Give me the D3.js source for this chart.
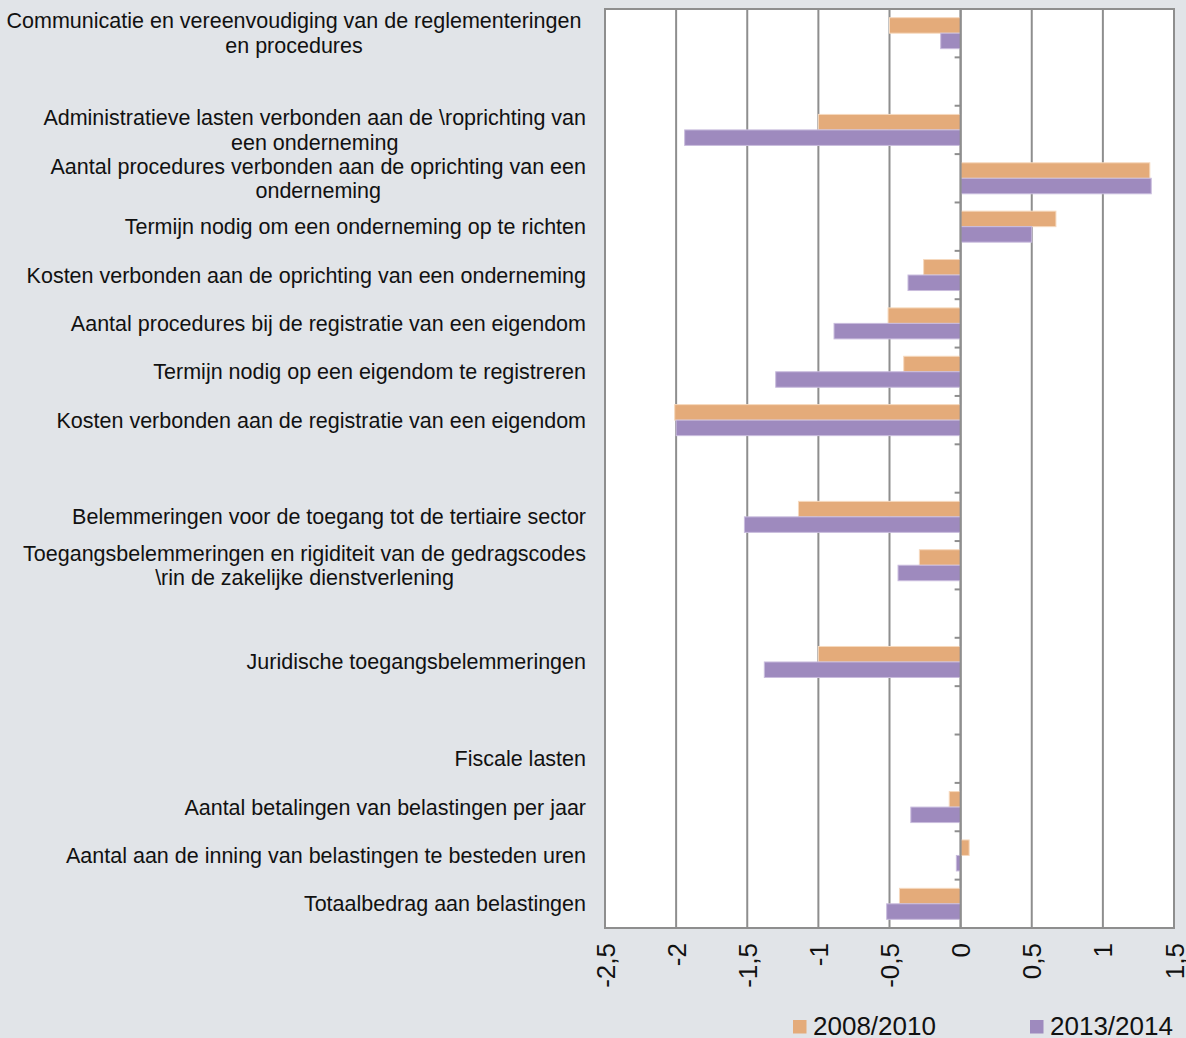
<!DOCTYPE html>
<html>
<head>
<meta charset="utf-8">
<script src="https://cdn.jsdelivr.net/npm/d3@7"></script>
<style>
  html, body { margin: 0; padding: 0; background: #E1E4E8; }
  svg { display: block; font-family: "Liberation Sans", Arial, sans-serif; }
</style>
</head>
<body>
<svg id="chart" width="1186" height="1038"></svg>
<script>
// Category labels (top to bottom); empty strings are spacer rows, "\n" marks a wrapped line
const categories = [
  "Communicatie en vereenvoudiging van de reglementeringen\nen procedures",
  "",
  "Administratieve lasten verbonden aan de \\roprichting van\neen onderneming",
  "Aantal procedures verbonden aan de oprichting van een\nonderneming",
  "Termijn nodig om een onderneming op te richten",
  "Kosten verbonden aan de oprichting van een onderneming",
  "Aantal procedures bij de registratie van een eigendom",
  "Termijn nodig op een eigendom te registreren",
  "Kosten verbonden aan de registratie van een eigendom",
  "",
  "Belemmeringen voor de toegang tot de tertiaire sector",
  "Toegangsbelemmeringen en rigiditeit van de gedragscodes\n\\rin de zakelijke dienstverlening",
  "",
  "Juridische toegangsbelemmeringen",
  "",
  "Fiscale lasten",
  "Aantal betalingen van belastingen per jaar",
  "Aantal aan de inning van belastingen te besteden uren",
  "Totaalbedrag aan belastingen"
];

const seriesNames = ["2008/2010", "2013/2014"];

const values2008_2010 = [
  -0.50, null, -1.00, 1.33, 0.67, -0.26, -0.51, -0.40, -2.01, null,
  -1.14, -0.29, null, -1.00, null, null, -0.08, 0.06, -0.43
];

const values2013_2014 = [
  -0.14, null, -1.94, 1.34, 0.50, -0.37, -0.89, -1.30, -2.00, null,
  -1.52, -0.44, null, -1.38, null, null, -0.35, -0.03, -0.52
];

const tickValues = [-2.5, -2, -1.5, -1, -0.5, 0, 0.5, 1, 1.5];

const colors = ["#E4AB7A", "#9E8ABE"];
const strokes = ["#F6D9BE", "#C9BCDD"];

const svg = d3.select("#chart");

const plot = { left: 605, right: 1174, top: 9, bottom: 928 };

const x = d3.scaleLinear()
  .domain([-2.5, 1.5])
  .range([plot.left, plot.right]);

const y = d3.scaleBand()
  .domain(d3.range(categories.length))
  .range([plot.top, plot.bottom])
  .padding(0);

const ySub = d3.scaleBand()
  .domain(seriesNames)
  .range([0, y.bandwidth()])
  .paddingInner(0)
  .paddingOuter(0.56);

// plot background
svg.append("rect")
  .attr("x", plot.left).attr("y", plot.top)
  .attr("width", plot.right - plot.left)
  .attr("height", plot.bottom - plot.top)
  .attr("fill", "#FFFFFF");

// vertical gridlines
svg.append("g")
  .selectAll("line")
  .data(tickValues)
  .join("line")
  .attr("x1", d => x(d)).attr("x2", d => x(d))
  .attr("y1", plot.top).attr("y2", plot.bottom)
  .attr("stroke", "#8E8E8E")
  .attr("stroke-width", 2);

// plot border
svg.append("rect")
  .attr("x", plot.left).attr("y", plot.top)
  .attr("width", plot.right - plot.left)
  .attr("height", plot.bottom - plot.top)
  .attr("fill", "none")
  .attr("stroke", "#8E8E8E")
  .attr("stroke-width", 2);

// bars
const seriesData = [values2008_2010, values2013_2014];
seriesData.forEach((vals, si) => {
  svg.append("g")
    .selectAll("rect")
    .data(vals.map((v, i) => ({ i, v })).filter(d => d.v !== null))
    .join("rect")
    .attr("x", d => x(Math.min(0, d.v)))
    .attr("width", d => Math.abs(x(d.v) - x(0)))
    .attr("y", d => y(d.i) + ySub(seriesNames[si]))
    .attr("height", ySub.bandwidth())
    .attr("fill", colors[si])
    .attr("stroke", strokes[si])
    .attr("stroke-width", 1);
});

// category axis on the zero line
const yAxis = svg.append("g");
yAxis.append("line")
  .attr("x1", x(0)).attr("x2", x(0))
  .attr("y1", plot.top).attr("y2", plot.bottom)
  .attr("stroke", "#8E8E8E")
  .attr("stroke-width", 2);
yAxis.selectAll("line.tick")
  .data(d3.range(categories.length + 1))
  .join("line")
  .attr("class", "tick")
  .attr("x1", x(0) - 6).attr("x2", x(0))
  .attr("y1", i => plot.top + i * y.step())
  .attr("y2", i => plot.top + i * y.step())
  .attr("stroke", "#8E8E8E")
  .attr("stroke-width", 2);

// category labels: wrapped lines centred inside a right-aligned block;
// a block that nearly fills the label area is centred in it instead
const labelLeft = 2;
const labelRight = 586;
const lineHeight = 24.5;
const labels = svg.append("g")
  .attr("font-size", "21.5px")
  .attr("fill", "#111");
categories.forEach((cat, i) => {
  if (!cat) return;
  const lines = cat.split("\n");
  const g = labels.append("g");
  const texts = lines.map((ln, k) =>
    g.append("text")
      .attr("y", y(i) + y.bandwidth() / 2 + (k - (lines.length - 1) / 2) * lineHeight)
      .attr("dy", "0.35em")
      .attr("text-anchor", "middle")
      .text(ln)
  );
  const blockW = d3.max(texts, t => t.node().getComputedTextLength());
  const center = blockW > (labelRight - labelLeft) - 12
    ? (labelLeft + labelRight) / 2
    : labelRight - blockW / 2;
  texts.forEach(t => t.attr("x", center));
});

// value axis labels, rotated
const xAxis = svg.append("g")
  .attr("transform", `translate(0,${plot.bottom})`)
  .call(d3.axisBottom(x)
    .tickValues(tickValues)
    .tickFormat(d => String(d).replace(".", ","))
    .tickSize(0));
xAxis.select(".domain").remove();
xAxis.selectAll("text")
  .attr("font-family", "\"Liberation Sans\", Arial, sans-serif")
  .attr("font-size", "26px")
  .attr("fill", "#111")
  .attr("text-anchor", "end")
  .attr("transform", "rotate(-90)")
  .attr("x", -15)
  .attr("y", 0)
  .attr("dy", "0.35em");

// legend
const legendItems = [
  { name: seriesNames[0], color: colors[0], x: 793 },
  { name: seriesNames[1], color: colors[1], x: 1030 }
];
const legend = svg.append("g");
legendItems.forEach(it => {
  legend.append("rect")
    .attr("x", it.x).attr("y", 1020)
    .attr("width", 13.5).attr("height", 13.5)
    .attr("fill", it.color);
  legend.append("text")
    .attr("x", it.x + 20).attr("y", 1034.5)
    .attr("font-size", "26px")
    .attr("fill", "#111")
    .text(it.name);
});
</script>
</body>
</html>
